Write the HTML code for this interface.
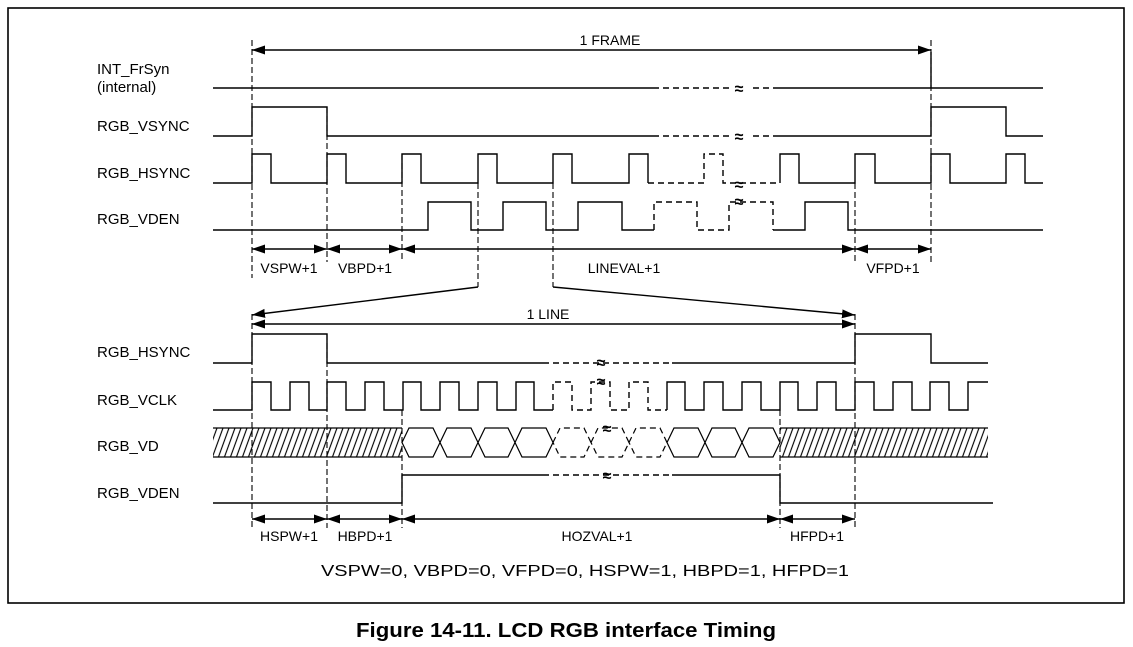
<!DOCTYPE html>
<html><head><meta charset="utf-8"><style>
html,body{margin:0;padding:0;background:#fff;}
svg{display:block;}
text{font-family:"Liberation Sans",Arial,sans-serif;fill:#000;}
</style></head><body>
<svg width="1133" height="647" viewBox="0 0 1133 647" xmlns="http://www.w3.org/2000/svg">
<defs>
<marker id="ae" markerWidth="14" markerHeight="10" refX="13" refY="5" orient="auto" markerUnits="userSpaceOnUse"><path d="M0,0.5 L13,5 L0,9.5 Z" fill="#000"/></marker>
<marker id="as" markerWidth="14" markerHeight="10" refX="1" refY="5" orient="auto" markerUnits="userSpaceOnUse"><path d="M14,0.5 L1,5 L14,9.5 Z" fill="#000"/></marker>
<pattern id="hatch" patternUnits="userSpaceOnUse" width="6" height="29" patternTransform="translate(0,428) skewX(-20)">
<line x1="1" y1="0" x2="1" y2="29" stroke="#000" stroke-width="1.2"/>
</pattern>
</defs>
<rect x="8" y="8" width="1116" height="595" fill="none" stroke="#000" stroke-width="1.6"/>

<g font-size="15">
<text x="97" y="74">INT_FrSyn</text>
<text x="97" y="92">(internal)</text>
<text x="97" y="131">RGB_VSYNC</text>
<text x="97" y="178">RGB_HSYNC</text>
<text x="97" y="224">RGB_VDEN</text>
<text x="97" y="357">RGB_HSYNC</text>
<text x="97" y="405">RGB_VCLK</text>
<text x="97" y="451">RGB_VD</text>
<text x="97" y="498">RGB_VDEN</text>
</g>

<g fill="none" stroke="#000" stroke-width="1.4">
<g stroke-dasharray="6,3" stroke-width="1.1">
<line x1="252" y1="40" x2="252" y2="278"/>
<line x1="327" y1="107" x2="327" y2="262"/>
<line x1="402" y1="154" x2="402" y2="262"/>
<line x1="478" y1="183" x2="478" y2="287"/>
<line x1="553" y1="183" x2="553" y2="287"/>
<line x1="855" y1="183" x2="855" y2="262"/>
<line x1="931" y1="40" x2="931" y2="262"/>
<line x1="252" y1="314" x2="252" y2="528"/>
<line x1="327" y1="334" x2="327" y2="528"/>
<line x1="402" y1="410" x2="402" y2="528"/>
<line x1="780" y1="410" x2="780" y2="528"/>
<line x1="855" y1="314" x2="855" y2="528"/>
</g>
<path d="M213 88 H653 M778 88 H1043 M931 88 V52"/>
<path d="M653 88 H778" stroke-dasharray="6,4"/>
<path d="M213 136 H252 V107 H327 V136 H653 M778 136 H931 V107 H1006 V136 H1043"/>
<path d="M653 136 H778" stroke-dasharray="6,4"/>
<path d="M213 183 H252 V154 H271 V183 H327 V154 H346 V183 H402 V154 H421 V183 H478 V154 H497 V183 H553 V154 H572 V183 H629 V154 H648 V183"/>
<path d="M648 183 H704 V154 H723 V183 H780" stroke-dasharray="6,4"/>
<path d="M780 183 V154 H799 V183 H855 V154 H875 V183 H931 V154 H950 V183 H1006 V154 H1025 V183 H1043"/>
<path d="M213 230 H428 V202 H471 V230 H503 V202 H546 V230 H578 V202 H622 V230 H654"/>
<path d="M654 230 V202 H697 V230 H729 V202 H773 V230" stroke-dasharray="6,4"/>
<path d="M773 230 H805 V202 H848 V230 H1043"/>
<line x1="252" y1="50" x2="931" y2="50" marker-start="url(#as)" marker-end="url(#ae)"/>
<line x1="252" y1="249" x2="327" y2="249" marker-start="url(#as)" marker-end="url(#ae)"/>
<line x1="327" y1="249" x2="402" y2="249" marker-start="url(#as)" marker-end="url(#ae)"/>
<line x1="402" y1="249" x2="855" y2="249" marker-start="url(#as)" marker-end="url(#ae)"/>
<line x1="855" y1="249" x2="931" y2="249" marker-start="url(#as)" marker-end="url(#ae)"/>
<line x1="478" y1="287" x2="252" y2="315" marker-end="url(#ae)"/>
<line x1="553" y1="287" x2="855" y2="315" marker-end="url(#ae)"/>
<line x1="252" y1="324" x2="855" y2="324" marker-start="url(#as)" marker-end="url(#ae)"/>
<path d="M213 363 H252 V334 H327 V363 H543 M672 363 H855 V334 H931 V363 H988"/>
<path d="M543 363 H672" stroke-dasharray="6,4"/>
<path d="M213 410 H252 V382 H271 V410 H290 V382 H309 V410 H327 V382 H346 V410 H365 V382 H384 V410 H403 V382 H421 V410 H440 V382 H459 V410 H478 V382 H497 V410 H516 V382 H534 V410 H553"/>
<path d="M553 410 V382 H572 V410 H591 V382 H610 V410 H629 V382 H648 V410 H667" stroke-dasharray="6,4"/>
<path d="M667 410 V382 H685 V410 H704 V382 H723 V410 H742 V382 H761 V410 H780 V382 H798 V410 H817 V382 H836 V410 H855 V382 H874 V410 H893 V382 H912 V410 H930 V382 H949 V410 H968 V382 H988"/>
<rect x="213" y="428" width="189" height="29" fill="url(#hatch)" stroke="none"/>
<rect x="780" y="428" width="208" height="29" fill="url(#hatch)" stroke="none"/>
<path d="M213 428 H402 M213 457 H402 M780 428 H988 M780 457 H988" stroke-width="1.2"/>
<g stroke-width="1.2">
<path d="M402 442.5 L409 428 H433 L440 442.5 L433 457 H409 Z"/>
<path d="M440 442.5 L447 428 H471 L478 442.5 L471 457 H447 Z"/>
<path d="M478 442.5 L485 428 H508 L515 442.5 L508 457 H485 Z"/>
<path d="M515 442.5 L522 428 H546 L553 442.5 L546 457 H522 Z"/>
<path d="M667 442.5 L674 428 H698 L705 442.5 L698 457 H674 Z"/>
<path d="M705 442.5 L712 428 H735 L742 442.5 L735 457 H712 Z"/>
<path d="M742 442.5 L749 428 H773 L780 442.5 L773 457 H749 Z"/>
<g stroke-dasharray="6,4">
<path d="M553 442.5 L560 428 H584 L591 442.5 L584 457 H560 Z"/>
<path d="M591 442.5 L598 428 H622 L629 442.5 L622 457 H598 Z"/>
<path d="M629 442.5 L636 428 H660 L667 442.5 L660 457 H636 Z"/>
</g>
</g>
<path d="M213 503 H402 V475 H543 M672 475 H780 V503 H993"/>
<path d="M543 475 H672" stroke-dasharray="6,4"/>
<line x1="252" y1="519" x2="327" y2="519" marker-start="url(#as)" marker-end="url(#ae)"/>
<line x1="327" y1="519" x2="402" y2="519" marker-start="url(#as)" marker-end="url(#ae)"/>
<line x1="402" y1="519" x2="780" y2="519" marker-start="url(#as)" marker-end="url(#ae)"/>
<line x1="780" y1="519" x2="855" y2="519" marker-start="url(#as)" marker-end="url(#ae)"/>
</g>

<g font-size="16" font-weight="bold" text-anchor="middle">
<rect x="729" y="81" width="20" height="14" fill="#fff"/><text x="739" y="94">≈</text>
<rect x="729" y="129" width="20" height="14" fill="#fff"/><text x="739" y="142">≈</text>
<text x="739" y="190">≈</text>
<text x="739" y="207">≈</text>
<text x="601" y="368">≈</text>
<text x="601" y="387">≈</text>
<text x="607" y="434">≈</text>
<text x="607" y="481">≈</text>
</g>

<g font-size="14" text-anchor="middle">
<text x="610" y="45">1 FRAME</text>
<text x="289" y="273">VSPW+1</text>
<text x="365" y="273">VBPD+1</text>
<text x="624" y="273">LINEVAL+1</text>
<text x="893" y="273">VFPD+1</text>
<text x="548" y="319">1 LINE</text>
<text x="289" y="541">HSPW+1</text>
<text x="365" y="541">HBPD+1</text>
<text x="597" y="541">HOZVAL+1</text>
<text x="817" y="541">HFPD+1</text>
<text x="585" y="576" textLength="528" lengthAdjust="spacingAndGlyphs" font-size="16">VSPW=0, VBPD=0, VFPD=0, HSPW=1, HBPD=1, HFPD=1</text>
</g>
<text x="566" y="637" text-anchor="middle" font-size="20" font-weight="bold" textLength="420" lengthAdjust="spacingAndGlyphs">Figure 14-11. LCD RGB interface Timing</text>
</svg>
</body></html>
